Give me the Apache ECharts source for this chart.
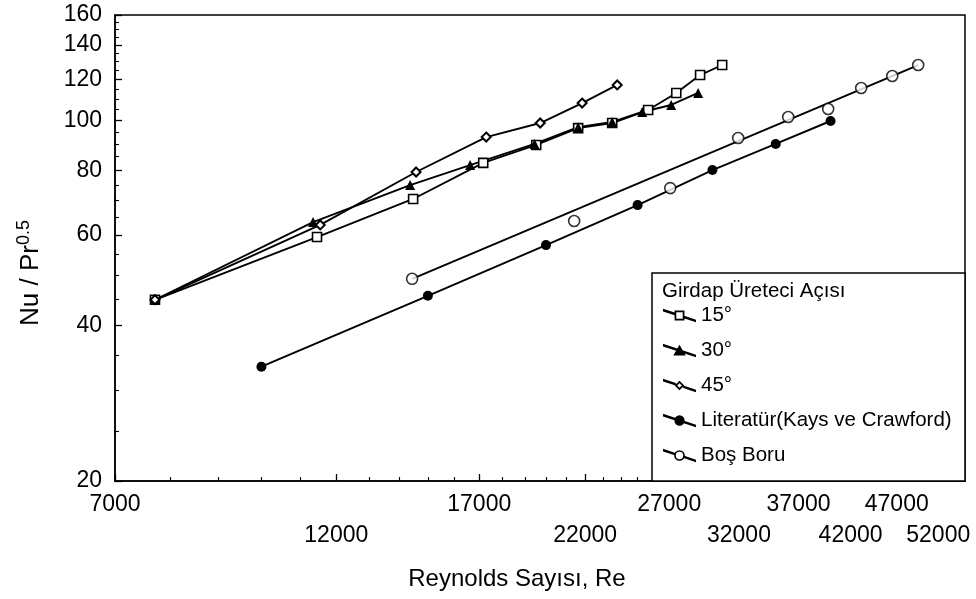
<!DOCTYPE html>
<html>
<head>
<meta charset="utf-8">
<script src="https://cdn.jsdelivr.net/npm/echarts@6/dist/echarts.min.js"></script>
<style>
  html, body { margin: 0; padding: 0; background: #fff; }
  #chart { width: 976px; height: 599px; }
</style>
</head>
<body>
<div id="chart"></div>
<script>
const FONT = '"Liberation Sans", Arial, Helvetica, sans-serif';

// Reynolds-number tick labels, drawn on two staggered rows
const reTicksUpper = [7000, 17000, 27000, 37000, 47000];
const reTicksLower = [12000, 22000, 32000, 42000, 52000];
const nuTicks = [20, 40, 60, 80, 100, 120, 140, 160];

// Each point: [Re, Nu / Pr^0.5]
const angle15 = [[7716, 44.9], [11450, 59.4], [14470, 70.4], [17165, 82.7], [19530, 89.6], [21630, 96.6],
                 [23500, 98.8], [25650, 104.7], [27470, 113.0], [29110, 122.4], [30720, 128.0]];
const angle30 = [[7716, 44.9], [11340, 63.5], [14365, 74.9], [16625, 81.9], [19450, 90.0], [21630, 97.0],
                 [23500, 99.3], [25280, 103.8], [27130, 107.1], [28970, 113.0]];
const angle45 = [[7716, 44.9], [11540, 62.7], [14575, 79.4], [17290, 92.8], [19720, 98.8], [21840, 108.0],
                 [23790, 117.1]];
const kaysCrawford = [[10000, 33.3], [15000, 45.7], [20000, 57.3], [25000, 68.5], [30000, 80.1],
                      [35000, 90.0], [40000, 99.7]];
const plainTube = [[14435, 49.3], [21420, 63.8], [27070, 73.9], [31940, 92.4], [36080, 101.5],
                   [39770, 105.2], [43100, 115.5], [46490, 121.9], [49520, 128.0]];
const plainTubeFit = [[14435, 49.3], [49520, 128.0]];

const RE_MIN = 7000, RE_MAX = 55500, NU_MIN = 20, NU_MAX = 160;

// minor ticks: every 1000 in Re, every 5 in Nu/Pr^0.5
const reMajor = reTicksUpper.concat(reTicksLower).sort((a, b) => a - b);
const reMinor = [];
for (let v = 8000; v <= 55000; v += 1000) if (reMajor.indexOf(v) < 0) reMinor.push(v);
const nuMinor = [];
for (let v = 25; v < 160; v += 5) if (nuTicks.indexOf(v) < 0) nuMinor.push(v);

// legend icons: a slanted line with the series marker in the middle (32 x 13 box)
const lineFull = 'M0 0L32 10.5L32 13L0 2.5Z';
function lineSplit(a, b) {
  const ya = a * 10.5 / 32, yb = b * 10.5 / 32;
  return 'M0 0L' + a + ' ' + ya + 'L' + a + ' ' + (ya + 2.5) + 'L0 2.5Z' +
         'M' + b + ' ' + yb + 'L32 10.5L32 13L' + b + ' ' + (yb + 2.5) + 'Z';
}
const iconSquare = 'path://' + lineSplit(12, 20) +
  'M11.2 1.7L20.8 1.7L20.8 11.3L11.2 11.3Z M12.9 3.4L12.9 9.6L19.1 9.6L19.1 3.4Z';
const iconTriangle = 'path://' + lineFull + 'M16 1L22 11.3L10 11.3Z';
const iconDiamond = 'path://' + lineSplit(12.4, 19.6) +
  'M16 1.8L20.7 6.5L16 11.2L11.3 6.5Z M16 4.3L13.8 6.5L16 8.7L18.2 6.5Z';
const iconDot = 'path://' + lineFull + 'M11 6.5A5 5 0 1 1 21 6.5A5 5 0 1 1 11 6.5Z';
const iconRing = 'path://' + lineSplit(11.4, 20.6) +
  'M10.8 6.5A5.2 5.2 0 1 1 21.2 6.5A5.2 5.2 0 1 1 10.8 6.5Z M12.4 6.5A3.6 3.6 0 1 0 19.6 6.5A3.6 3.6 0 1 0 12.4 6.5Z';

const black = '#000';
const lineW = 1.9;

function lineSeries(name, data, symbol, size, fill, border) {
  return {
    name, type: 'line', data, symbol, symbolSize: size, showSymbol: true,
    lineStyle: { color: black, width: lineW },
    itemStyle: { color: fill, borderColor: black, borderWidth: border },
    emphasis: { disabled: true }, z: 2
  };
}

// a bare log Re axis used only for one row of labels or for minor ticks
function extraReAxis(extra) {
  return Object.assign({
    type: 'log', logBase: 10, min: RE_MIN, max: RE_MAX, position: 'bottom',
    axisLine: { show: false }, axisTick: { show: false }, axisLabel: { show: false },
    splitLine: { show: false }
  }, extra);
}

// tick labels printed as plain integers (no digit grouping)
const labelFont = { fontFamily: FONT, fontSize: 23, color: black, formatter: v => String(v) };

const chart = echarts.init(document.getElementById('chart'), null, { renderer: 'canvas' });
chart.setOption({
  animation: false,
  backgroundColor: '#fff',
  textStyle: { fontFamily: FONT, color: black },
  title: {
    text: 'Girdap Üreteci Açısı',
    left: 662, top: 281, padding: 0,
    textStyle: { fontFamily: FONT, fontSize: 20.5, fontWeight: 'normal', color: black }
  },
  legend: {
    orient: 'vertical', left: 663, top: 305, padding: 0,
    itemWidth: 33, itemHeight: 14, itemGap: 14,
    selectedMode: false,
    itemStyle: { color: black, borderColor: black, borderWidth: 0 },
    textStyle: { fontFamily: FONT, fontSize: 20.5, color: black },
    data: [
      { name: '15°', icon: iconSquare },
      { name: '30°', icon: iconTriangle },
      { name: '45°', icon: iconDiamond },
      { name: 'Literatür(Kays ve Crawford)', icon: iconDot },
      { name: 'Boş Boru', icon: iconRing }
    ]
  },
  grid: {
    left: 115, top: 15, right: 11, bottom: 118,
    show: true, borderColor: black, borderWidth: 1.5, backgroundColor: 'transparent'
  },
  graphic: [{
    type: 'rect', z: 3,
    shape: { x: 652, y: 273, width: 313, height: 208 },
    style: { fill: '#fff', stroke: black, lineWidth: 1.5 }
  }],
  xAxis: [{
    type: 'log', logBase: 10, min: RE_MIN, max: RE_MAX, position: 'bottom',
    name: 'Reynolds Sayısı, Re', nameLocation: 'middle', nameGap: 86,
    nameTextStyle: { fontFamily: FONT, fontSize: 24, color: black, padding: [0, 46, 0, 0] },
    axisLine: { show: true, lineStyle: { color: black, width: 1.5 } },
    axisTick: { show: true, inside: true, length: 7, customValues: reMajor, lineStyle: { color: black, width: 1.3 } },
    minorTick: { show: false },
    axisLabel: Object.assign({
      customValues: reTicksUpper, hideOverlap: false, interval: 0,
      showMinLabel: true, showMaxLabel: true, margin: 12
    }, labelFont),
    splitLine: { show: false }
  },
  extraReAxis({
    axisLabel: Object.assign({
      show: true, customValues: reTicksLower, hideOverlap: false, interval: 0,
      showMinLabel: true, showMaxLabel: true, margin: 43
    }, labelFont)
  }),
  extraReAxis({
    axisTick: { show: true, inside: true, length: 4, customValues: reMinor, lineStyle: { color: black, width: 1.1 } }
  })],
  yAxis: [{
    type: 'log', logBase: 10, min: NU_MIN, max: NU_MAX, position: 'left',
    name: '{a|Nu / Pr}{b|0.5}', nameLocation: 'middle', nameRotate: 90, nameGap: 68,
    nameTextStyle: {
      fontFamily: FONT, fontSize: 26, color: black, padding: [0, 50, 0, 0],
      rich: {
        a: { fontFamily: FONT, fontSize: 26, color: black, lineHeight: 32 },
        b: { fontFamily: FONT, fontSize: 18, color: black, lineHeight: 18, verticalAlign: 'top' }
      }
    },
    axisLine: { show: true, lineStyle: { color: black, width: 1.5 } },
    axisTick: { show: true, inside: true, length: 7, customValues: nuTicks, lineStyle: { color: black, width: 1.3 } },
    minorTick: { show: false },
    axisLabel: Object.assign({
      customValues: nuTicks, hideOverlap: false, interval: 0,
      showMinLabel: true, showMaxLabel: true, margin: 13
    }, labelFont),
    splitLine: { show: false }
  }, {
    type: 'log', logBase: 10, min: NU_MIN, max: NU_MAX, position: 'left',
    axisLine: { show: false },
    axisTick: { show: true, inside: true, length: 4, customValues: nuMinor, lineStyle: { color: black, width: 1.1 } },
    axisLabel: { show: false },
    splitLine: { show: false }
  }],
  series: [
    lineSeries('15°', angle15, 'rect', 9, '#fff', 1.6),
    lineSeries('30°', angle30, 'triangle', 10, black, 0),
    lineSeries('45°', angle45, 'diamond', 9, '#fff', 2),
    lineSeries('Literatür(Kays ve Crawford)', kaysCrawford, 'circle', 10, black, 0),
    {
      name: 'Boş Boru', type: 'line', data: plainTubeFit, symbol: 'none',
      lineStyle: { color: black, width: lineW }, emphasis: { disabled: true }, z: 2
    },
    {
      name: 'Boş Boru', type: 'scatter', data: plainTube, symbol: 'circle', symbolSize: 11,
      itemStyle: { color: '#fff', borderColor: black, borderWidth: 1.6 },
      emphasis: { disabled: true }, z: 3
    }
  ]
});
</script>
</body>
</html>
